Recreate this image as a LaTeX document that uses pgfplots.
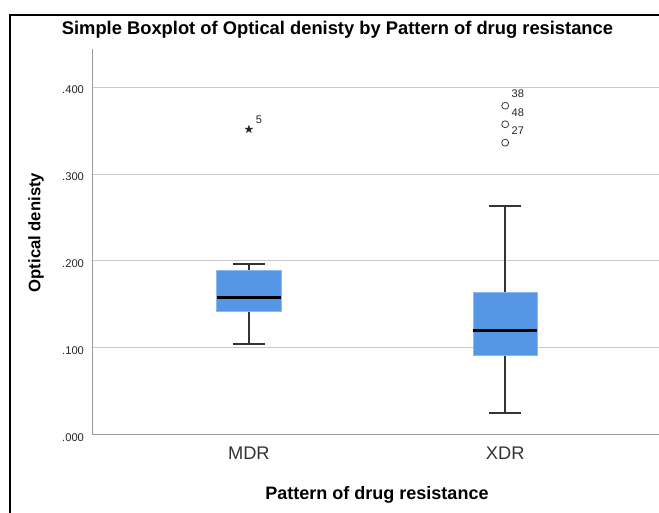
\documentclass[border=0pt]{standalone}
\usepackage{pgfplots}
\pgfplotsset{compat=1.18}
\usepgfplotslibrary{statistics}
\usepackage{fontspec}
\setmainfont{Liberation Sans}
\definecolor{boxblue}{RGB}{85,150,229}
\definecolor{boxedge}{RGB}{140,185,238}
\definecolor{gridc}{RGB}{200,200,200}
\definecolor{axisc}{RGB}{155,155,155}
\pgfdeclareplotmark{fstar}{%
  \pgfpathmoveto{\pgfpointpolar{90}{\pgfplotmarksize}}%
  \pgfpathlineto{\pgfpointpolar{126}{0.4\pgfplotmarksize}}%
  \pgfpathlineto{\pgfpointpolar{162}{\pgfplotmarksize}}%
  \pgfpathlineto{\pgfpointpolar{198}{0.4\pgfplotmarksize}}%
  \pgfpathlineto{\pgfpointpolar{234}{\pgfplotmarksize}}%
  \pgfpathlineto{\pgfpointpolar{270}{0.4\pgfplotmarksize}}%
  \pgfpathlineto{\pgfpointpolar{306}{\pgfplotmarksize}}%
  \pgfpathlineto{\pgfpointpolar{342}{0.4\pgfplotmarksize}}%
  \pgfpathlineto{\pgfpointpolar{18}{\pgfplotmarksize}}%
  \pgfpathlineto{\pgfpointpolar{54}{0.4\pgfplotmarksize}}%
  \pgfpathclose
  \pgfusepathqfillstroke}
\begin{document}
\begin{tikzpicture}
\useasboundingbox (-69.2pt,-58.1pt) rectangle (425pt,325.9pt);
\draw[line width=1.5pt] (-61.7pt,-100pt) rectangle (520pt,314.6pt);
\begin{axis}[
  at={(0pt,0pt)}, anchor=south west,
  scale only axis, width=425pt, height=289.1pt,
  xmin=-0.611, xmax=1.6, ymin=0, ymax=0.444,
  axis x line*=bottom, axis y line*=left,
  axis line style={axisc, line width=0.9pt},
  xtick={0,1}, xticklabels={MDR,XDR},
  ytick={0,0.1,0.2,0.3,0.4}, yticklabels={.000,.100,.200,.300,.400},
  major tick length=0pt,
  ymajorgrids, grid style={gridc, line width=0.8pt},
  yticklabel style={font=\fontsize{8.4}{10}\selectfont, text=black!85, xshift=-2.7pt, yshift=-2pt},
  xticklabel style={font=\fontsize{13.7}{16}\selectfont, text=black!80, yshift=-5.4pt},
  title={Simple Boxplot of Optical denisty by Pattern of drug resistance},
  title style={at={(axis description cs:0.4327,1.0174)}, anchor=base, font=\fontsize{13.75}{15}\selectfont\bfseries},
  xlabel={Pattern of drug resistance},
  xlabel style={at={(axis description cs:0.5024,-0.168)}, anchor=base, font=\fontsize{13.5}{16}\selectfont\bfseries},
  ylabel={Optical denisty},
  ylabel style={at={(axis description cs:-0.0993,0.524)}, anchor=center, font=\fontsize{12.5}{15}\selectfont\bfseries},
  boxplot/draw direction=y,
  clip=false,
]
\addplot[boxplot prepared={draw position=0, lower whisker=0.1043, lower quartile=0.1423, median=0.1576, upper quartile=0.1895, upper whisker=0.196, box extend=0.25, whisker extend=0.125},
  boxplot/every box/.style={fill=boxblue, draw=boxedge, line width=0.6pt},
  boxplot/every whisker/.style={draw=black!80, line width=1.4pt},
  boxplot/every median/.style={draw=black, line width=2.2pt}] coordinates {};
\addplot[boxplot prepared={draw position=1, lower whisker=0.0251, lower quartile=0.0908, median=0.120, upper quartile=0.1634, upper whisker=0.2632, box extend=0.25, whisker extend=0.125},
  boxplot/every box/.style={fill=boxblue, draw=boxedge, line width=0.6pt},
  boxplot/every whisker/.style={draw=black!80, line width=1.4pt},
  boxplot/every median/.style={draw=black, line width=2.2pt}] coordinates {};
\addplot[only marks, mark=fstar, mark size=2.8pt, black!85] coordinates {(0,0.3516)};
\addplot[only marks, mark=o, mark size=2.6pt, black!75, mark options={line width=0.6pt}] coordinates {(1,0.3788) (1,0.3574) (1,0.3362)};
\node[font=\fontsize{8.3}{10}\selectfont, text=black!85, xshift=7.5pt, yshift=7pt] at (axis cs:0,0.3516) {5};
\node[font=\fontsize{8.3}{10}\selectfont, text=black!85, xshift=9.5pt, yshift=8.8pt] at (axis cs:1,0.3788) {38};
\node[font=\fontsize{8.3}{10}\selectfont, text=black!85, xshift=9.5pt, yshift=8.8pt] at (axis cs:1,0.3574) {48};
\node[font=\fontsize{8.3}{10}\selectfont, text=black!85, xshift=9.5pt, yshift=8.8pt] at (axis cs:1,0.3362) {27};
\end{axis}
\end{tikzpicture}
\end{document}
